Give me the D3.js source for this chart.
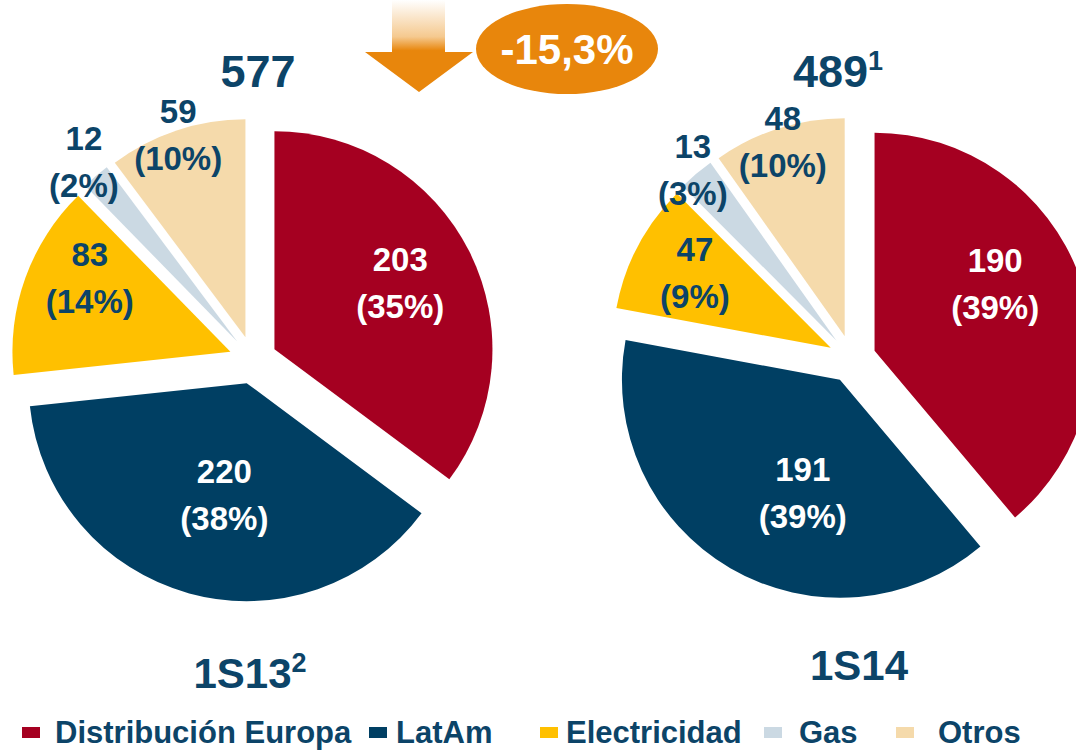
<!DOCTYPE html>
<html>
<head>
<meta charset="utf-8">
<script src="https://cdn.jsdelivr.net/npm/d3@7"></script>
<style>
  body { margin: 0; background: #fff; }
  svg { display: block; font-family: "Liberation Sans", Arial, sans-serif; font-weight: bold; }
</style>
</head>
<body>
<script>
// data
var categories = ["Distribución Europa", "LatAm", "Electricidad", "Gas", "Otros"];
var values_1S13 = [203, 220, 83, 12, 59];
var values_1S14 = [190, 191, 47, 13, 48];
var pct_1S13 = ["35%", "38%", "14%", "2%", "10%"];
var pct_1S14 = ["39%", "39%", "9%", "3%", "10%"];
var periods = ["1S13", "1S14"];
var period_notes = ["2", ""];
var totals = [577, 489];
var total_notes = ["", "1"];
var change_label = "-15,3%";

var colors = ["#a50021", "#003f63", "#ffc000", "#cbd9e3", "#f5daab"];
var text_dark = "#0c4468";
var orange = "#e8860c";

var width = 1076, height = 751;
var radius = 218, explode = 24;

var svg = d3.select("body").append("svg")
  .attr("width", width)
  .attr("height", height);

var defs = svg.append("defs");
var grad = defs.append("linearGradient")
  .attr("id", "fade").attr("x1", 0).attr("y1", 0).attr("x2", 0).attr("y2", 1);
grad.append("stop").attr("offset", "0%").attr("stop-color", "#fff");
grad.append("stop").attr("offset", "40%").attr("stop-color", "#f5c98f");
grad.append("stop").attr("offset", "55%").attr("stop-color", orange);
grad.append("stop").attr("offset", "100%").attr("stop-color", orange);

var pie = d3.pie().sort(null).startAngle(0).endAngle(2 * Math.PI);
var arc = d3.arc().innerRadius(0).outerRadius(radius);

// label placement: radius from pie centre, angle nudge in degrees
var charts = [
  { values: values_1S13, pct: pct_1S13, cx: 253, cy: 360, period: periods[0], pnote: period_notes[0], total: totals[0], tnote: total_notes[0],
    labR: [142, 114, 159, 236, 213], labA: [-1, -4, 8, 0, 0], titleX: 258, periodX: 250, periodY: 688 },
  { values: values_1S14, pct: pct_1S14, cx: 852, cy: 359, period: periods[1], pnote: period_notes[1], total: totals[1], tnote: total_notes[1],
    labR: [138, 119, 155, 223, 204], labA: [-9, -12, 1, 0, 0], titleX: 838, periodX: 859, periodY: 680 }
];

charts.forEach(function(c) {
  var g = svg.append("g").attr("transform", "translate(" + c.cx + "," + c.cy + ")");
  var arcs = pie(c.values);

  function offset(d) {
    var m = (d.startAngle + d.endAngle) / 2;
    return [explode * Math.sin(m), -explode * Math.cos(m)];
  }

  g.selectAll("path")
    .data(arcs)
    .enter()
    .append("path")
    .attr("d", arc)
    .attr("fill", function(d, i) { return colors[i]; })
    .attr("transform", function(d) { return "translate(" + offset(d) + ")"; });

  var labels = g.selectAll("g.lab")
    .data(arcs)
    .enter()
    .append("g")
    .attr("class", "lab")
    .attr("transform", function(d, i) {
      var o = offset(d);
      var m = (d.startAngle + d.endAngle) / 2 + c.labA[i] * Math.PI / 180;
      var x = o[0] + c.labR[i] * Math.sin(m);
      var y = o[1] - c.labR[i] * Math.cos(m);
      return "translate(" + x + "," + y + ")";
    })
    .attr("fill", function(d, i) { return i < 2 ? "#fff" : text_dark; })
    .attr("font-size", 33)
    .attr("text-anchor", "middle");

  labels.append("text").attr("y", -12).text(function(d) { return d.data; });
  labels.append("text").attr("y", 35).text(function(d, i) { return "(" + c.pct[i] + ")"; });

  // total on top
  var t = svg.append("text")
    .attr("x", c.titleX).attr("y", 87)
    .attr("text-anchor", "middle")
    .attr("font-size", 45)
    .attr("fill", text_dark)
    .text(c.total);
  if (c.tnote) t.append("tspan").attr("font-size", 27).attr("dy", -17).text(c.tnote);

  // period under the pie
  var p = svg.append("text")
    .attr("x", c.periodX).attr("y", c.periodY)
    .attr("text-anchor", "middle")
    .attr("font-size", 42)
    .attr("fill", text_dark)
    .text(c.period);
  if (c.pnote) p.append("tspan").attr("font-size", 27).attr("dy", -16).text(c.pnote);
});

// down arrow with fade
svg.append("path")
  .attr("d", "M392,0 L445,0 L445,52 L473,52 L419,92 L365,52 L392,52 Z")
  .attr("fill", "url(#fade)");

// change bubble
svg.append("ellipse")
  .attr("cx", 567).attr("cy", 49).attr("rx", 91).attr("ry", 45)
  .attr("fill", orange);
svg.append("text")
  .attr("x", 567).attr("y", 64)
  .attr("text-anchor", "middle")
  .attr("font-size", 42)
  .attr("fill", "#fff")
  .text(change_label);

// legend
var legendX = [22, 369, 540, 764, 896];
var textX = [55, 396, 566, 799, 938];
var legend = svg.selectAll("g.legend")
  .data(categories)
  .enter()
  .append("g")
  .attr("class", "legend");
legend.append("rect")
  .attr("x", function(d, i) { return legendX[i]; })
  .attr("y", 727)
  .attr("width", 18).attr("height", 11)
  .attr("fill", function(d, i) { return colors[i]; });
legend.append("text")
  .attr("x", function(d, i) { return textX[i]; })
  .attr("y", 743)
  .attr("font-size", 31)
  .attr("fill", text_dark)
  .text(function(d) { return d; });
</script>
</body>
</html>
